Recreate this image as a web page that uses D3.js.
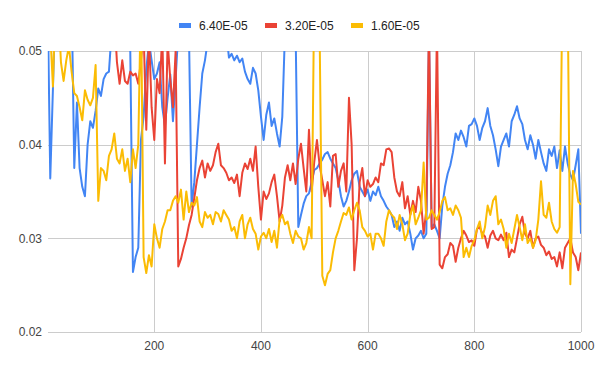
<!DOCTYPE html>
<html>
<head>
<meta charset="utf-8">
<style>
  body { margin: 0; background: #fff; }
  svg { font-family: Arial, 'Liberation Sans', sans-serif; }
  .grid line { stroke: #cccccc; stroke-width: 1; shape-rendering: crispEdges; }
  .tick-label { font-size: 12px; fill: #444; }
  .legend-label { font-size: 12px; fill: #222; }
</style>
</head>
<body>
<svg width="600" height="371"></svg>
<script src="https://d3js.org/d3.v7.min.js"></script>
<script>
// x positions of the samples (step 5)
const steps = d3.range(0, 1001, 5);

const seriesNames = ["6.40E-05", "3.20E-05", "1.60E-05"];
const seriesColors = ["#4285F4", "#EA4335", "#FBBC04"];

const blue = [
  .056,.0364,.046,.056,.058,.058,.057,.058,.057,.056,
  .0375,.0445,.0375,.0355,.0345,.0400,.0425,.0418,.0436,.0460,
  .0452,.0470,.0476,.0478,.052,.053,.051,.052,.053,.051,
  .051,.050,.0264,.0280,.0290,.0405,.0430,.0480,.0510,.0490,
  .0470,.0476,.0488,.0440,.0420,.0450,.0475,.0425,.0470,.052,
  .056,.056,.056,.052,.0334,.0360,.0400,.0440,.0476,.0490,
  .0510,.052,.053,.052,.054,.051,.053,.052,.0493,.0497,
  .0490,.0495,.0488,.0492,.0478,.0470,.0465,.0482,.0476,.0458,
  .0430,.0405,.0432,.0445,.0420,.0428,.0412,.0398,.0430,.052,
  .056,.056,.054,.052,.0312,.0325,.0337,.0345,.0348,.0360,
  .0373,.0375,.0380,.0384,.0390,.0392,.0385,.0380,.0375,.0362,
  .0345,.0334,.0340,.0350,.0362,.0369,.0372,.0355,.0350,.0345,
  .0352,.0340,.0350,.0346,.0355,.0345,.0340,.0334,.0330,.0325,
  .0312,.0318,.0308,.0322,.0315,.0318,.0305,.0288,.0300,.0303,
  .0308,.0300,.0305,.052,.0312,.0315,.0308,.0300,.0335,.0355,
  .0369,.0378,.0392,.0412,.0405,.0415,.0408,.0398,.0420,.0422,
  .0428,.0420,.0405,.0418,.0425,.0439,.0420,.0410,.0395,.0377,
  .0398,.0405,.0412,.0398,.0425,.0432,.0441,.0428,.0422,.0405,
  .0395,.0410,.0400,.0385,.0405,.0392,.0380,.0372,.0395,.0388,
  .0398,.0375,.0394,.0372,.0398,.0380,.0368,.0362,.0378,.0395,
  .0305
];

const red = [
  .057,.058,.058,.057,.058,.057,.058,.057,.058,.057,
  .058,.057,.058,.057,.058,.057,.058,.057,.058,.057,
  .058,.057,.058,.057,.056,.054,.0488,.0465,.0490,.0468,
  .0465,.0478,.0474,.0476,.0465,.0490,.0520,.0416,.0520,.0440,
  .0405,.0470,.0455,.052,.0380,.0510,.0470,.0440,.0500,.0270,
  .0278,.0290,.0300,.0314,.0325,.0343,.0362,.0375,.0383,.0365,
  .0380,.0372,.0378,.0392,.0401,.0378,.0375,.0370,.0362,.0365,
  .0359,.0368,.0345,.0370,.0380,.0374,.0385,.0372,.0398,.0355,
  .0320,.0350,.0342,.0348,.0360,.0368,.0345,.0318,.0335,.0365,
  .0378,.0362,.0380,.0358,.0385,.0401,.0375,.0350,.0416,.0350,
  .0382,.0405,.0378,.0362,.0345,.0360,.0334,.0388,.0390,.0355,
  .0372,.0380,.0350,.0450,.0400,.0266,.0300,.0360,.0375,.0345,
  .0362,.0355,.0358,.0365,.0360,.0380,.0378,.0395,.0396,.0392,
  .0365,.0350,.0345,.0360,.0332,.0345,.0325,.0340,.0328,.0355,
  .0340,.0305,.0330,.053,.0310,.0312,.053,.0272,.0268,.0280,
  .0283,.0295,.0292,.0275,.0290,.0300,.0308,.0303,.0296,.0298,
  .0292,.0310,.0312,.0305,.0302,.0290,.0303,.0308,.0300,.0298,
  .0304,.0298,.0306,.0280,.0288,.0285,.0300,.0315,.0323,.0305,
  .0300,.0308,.0290,.0300,.0302,.0293,.0290,.0282,.0286,.0278,
  .0280,.0270,.0285,.0268,.0290,.0295,.0300,.0285,.0280,.0266,
  .0285
];

const yellow = [
  .056,.052,.0462,.056,.055,.0488,.0468,.0490,.0505,.0478,
  .0455,.0452,.0440,.0426,.0458,.0448,.0442,.0450,.0485,.0340,
  .0375,.0372,.0362,.0388,.0395,.0412,.0385,.0380,.0395,.0372,
  .0385,.0360,.0395,.0375,.0400,.056,.0280,.0263,.0282,.0270,
  .0315,.0300,.0290,.0310,.0318,.0330,.0330,.0340,.0345,.0338,
  .0352,.0320,.0350,.0328,.0338,.0335,.0344,.0318,.0312,.0328,
  .0322,.0325,.0315,.0328,.0326,.0318,.0330,.0325,.0320,.0308,
  .0312,.0300,.0318,.0325,.0300,.0315,.0322,.0310,.0305,.0288,
  .0302,.0306,.0300,.0310,.0296,.0308,.0290,.0320,.0325,.0315,
  .0318,.0305,.0295,.0308,.0302,.0300,.0288,.0295,.0312,.0300,
  .057,.057,.052,.0260,.0250,.0262,.0266,.0285,.0300,.0308,
  .0318,.0327,.0325,.0333,.0320,.0330,.0338,.0330,.0312,.0308,
  .0302,.0305,.0288,.0305,.0305,.0300,.0292,.0318,.0330,.0325,
  .0322,.0310,.0325,.0315,.0298,.0305,.0325,.0335,.0315,.0322,
  .0330,.0381,.0320,.0322,.0330,.0325,.0320,.0328,.0340,.0344,
  .0330,.0332,.0325,.0335,.0330,.0322,.0280,.0290,.0280,.0292,
  .0298,.0310,.0318,.0300,.0312,.0335,.0325,.0340,.0345,.0315,
  .0320,.0310,.0290,.0305,.0295,.0310,.0325,.0312,.0298,.0315,
  .0295,.0300,.0290,.0298,.0320,.0361,.0325,.0322,.0338,.0318,
  .0310,.0306,.0312,.056,.056,.056,.0251,.0372,.0358,.0339,
  .0336
];

const xTicks = [200, 400, 600, 800, 1000];
const yTicks = [0.02, 0.03, 0.04, 0.05];

const allSeries = [blue, red, yellow];

const svg = d3.select("svg");

const x = d3.scaleLinear().domain([0, 1000]).range([47.6, 581]);
const y = d3.scaleLinear().domain([0.02, 0.05]).range([332, 51]);

// clip to the plot area
svg.append("clipPath").attr("id", "plot-clip")
  .append("rect")
  .attr("x", x(0)).attr("y", y(0.05))
  .attr("width", x(1000) - x(0)).attr("height", y(0.02) - y(0.05));

// horizontal grid
const grid = svg.append("g").attr("class", "grid");
grid.selectAll(".hline")
  .data(yTicks)
  .join("line")
  .attr("x1", x(0)).attr("x2", x(1000))
  .attr("y1", d => Math.round(y(d)) + 0.5)
  .attr("y2", d => Math.round(y(d)) + 0.5);

// vertical grid
grid.selectAll(".vline")
  .data(xTicks)
  .join("line")
  .attr("x1", d => Math.round(x(d)) + 0.5)
  .attr("x2", d => Math.round(x(d)) + 0.5)
  .attr("y1", y(0.05)).attr("y2", y(0.02));

// y labels
svg.append("g").selectAll("text")
  .data(yTicks)
  .join("text")
  .attr("class", "tick-label")
  .attr("x", 42)
  .attr("y", d => y(d))
  .attr("dy", "0.35em")
  .attr("text-anchor", "end")
  .text(d => d3.format(".2f")(d));

// x labels
svg.append("g").selectAll("text")
  .data(xTicks)
  .join("text")
  .attr("class", "tick-label")
  .attr("x", d => x(d))
  .attr("y", 350)
  .attr("text-anchor", "middle")
  .text(d => d);

// lines
const line = d3.line()
  .x((d, i) => x(steps[i]))
  .y(d => y(d));

svg.append("g")
  .attr("clip-path", "url(#plot-clip)")
  .selectAll("path")
  .data(allSeries)
  .join("path")
  .attr("fill", "none")
  .attr("stroke", (d, i) => seriesColors[i])
  .attr("stroke-width", 2)
  .attr("stroke-linejoin", "round")
  .attr("d", line);

// legend
const legendX = [179, 265, 351];
const legend = svg.append("g");
legend.selectAll("rect")
  .data(seriesNames)
  .join("rect")
  .attr("x", (d, i) => legendX[i])
  .attr("y", 23)
  .attr("width", 12)
  .attr("height", 5)
  .attr("fill", (d, i) => seriesColors[i]);
legend.selectAll("text")
  .data(seriesNames)
  .join("text")
  .attr("class", "legend-label")
  .attr("x", (d, i) => legendX[i] + 20)
  .attr("y", 25.5)
  .attr("dy", "0.35em")
  .text(d => d);
</script>
</body>
</html>
